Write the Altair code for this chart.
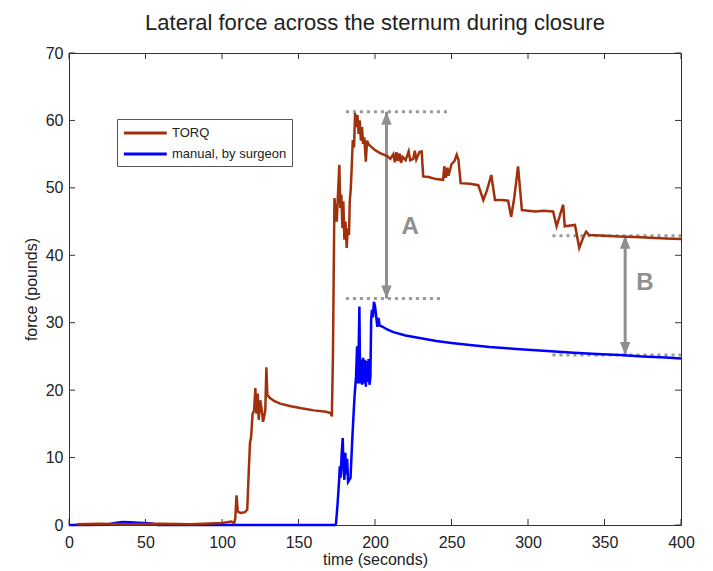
import altair as alt
import pandas as pd

# ---------------- data ----------------
series_names = ["TORQ", "manual, by surgeon"]
series_colors = ["#A0310C", "#0000FF"]

torq_t = [5, 20, 40, 60, 80, 100, 106, 108, 108.7, 109.5, 110.3, 112, 115, 116.5, 117.5, 118.3,
          119, 120, 121, 121.8, 122.5, 123.3, 124, 125, 126, 126.8, 127.5, 128.3, 129, 129.6,
          131, 134, 138, 145, 152, 160, 168, 171, 171.8, 172.5, 173, 173.5, 174, 175, 176,
          176.7, 177.3, 178, 178.7, 179.3, 180, 180.7, 181.5, 182.2, 183, 183.5, 184.2, 184.8,
          185.5, 186.3, 187, 187.8, 188.5, 189.3, 190, 190.8, 191.5, 192.2, 193, 194, 194.8,
          196, 198, 200, 203, 206, 208, 210, 212, 213, 214, 215, 216, 217, 218, 220, 222, 223,
          225, 226, 227, 229, 230.5, 231.5, 235, 240, 244.5, 245.3, 246.3, 247.3, 248, 250,
          252, 253.4, 254.5, 256, 262, 267.5, 270.8, 273, 276, 278.4, 283, 287, 289, 291,
          293.5, 296, 300, 305, 310, 316.4, 318.7, 323, 324, 330.7, 333.5, 336, 338, 340, 350,
          360, 370, 380, 390, 400]
torq_f = [0.1, 0.2, 0.1, 0.2, 0.1, 0.3, 0.5, 0.3, 1.0, 4.4, 2.0, 1.8, 1.9, 2.3, 8.0, 12.2,
          13.0, 16.5, 17.0, 20.3, 16.5, 19.5, 15.6, 18.5, 17.0, 15.3, 16.0, 17.0, 23.4, 19.3,
          18.9, 18.4, 18.0, 17.6, 17.3, 17.0, 16.8, 16.6, 16.1, 25.0, 37.0, 48.5, 47.0, 45.0,
          50.0, 53.4, 47.0, 49.0, 44.0, 48.0, 42.3, 45.0, 41.1, 44.0, 43.0, 48.0, 50.0, 53.2,
          57.1, 56.0, 61.1, 59.0, 60.8, 58.0, 60.0, 57.0, 59.0, 56.5, 57.5, 53.9, 57.0,
          56.4, 56.0, 55.6, 55.2, 54.9, 54.7, 54.3, 55.0, 53.8, 55.3, 54.0, 55.1, 53.7, 54.6,
          54.1, 55.4, 54.1, 54.3, 55.5, 54.2, 55.3, 55.4, 51.7, 51.6, 51.3, 51.2, 53.2, 51.5,
          53.0, 51.8, 53.5, 54.0, 54.9, 54.2, 50.7, 50.6, 50.4, 48.2, 49.5, 51.9, 48.2, 48.2,
          48.1, 45.7, 48.5, 53.2, 46.7, 46.6, 46.5, 46.6, 46.5, 44.3, 47.5, 44.3, 44.5, 41.1,
          42.6, 43.5, 43.0, 42.9, 42.8, 42.7, 42.6, 42.5, 42.4]

man_t = [0, 5, 10, 25, 30, 35, 40, 45, 50, 55, 58, 100, 174, 174.5, 175.5, 176.5, 177, 177.5,
         178.2, 178.9, 179.5, 180, 180.6, 181.2, 181.8, 182.4, 183.2, 184, 185, 185.8, 186.6,
         187.6, 188.3, 188.8, 189.4, 189.8, 190.3, 191, 191.6, 192.2, 192.8, 193.4, 194,
         194.6, 195.2, 195.8, 196.4, 197, 197.5, 198, 198.6, 199.3, 200, 200.8, 201.5, 202.3,
         203, 205, 208, 212, 220, 230, 240, 250, 262, 275, 290, 300, 315, 330, 345, 360, 375,
         390, 400]
man_f = [0, 0, 0, 0.05, 0.3, 0.45, 0.4, 0.35, 0.3, 0.2, 0, 0, 0, 0.2, 3.0, 6.5, 8.7, 7.0,
         10.5, 12.9, 8.0, 6.7, 10.7, 7.5, 9.8, 6.4, 6.7, 7.0, 12.0, 15.6, 19.0, 22.0, 26.5,
         21.0, 27.0, 32.4, 21.0, 24.5, 20.8, 24.8, 21.0, 24.5, 20.5, 24.3, 21.2, 24.6, 20.8,
         22.0, 30.5, 31.9, 30.8, 33.1, 32.5, 30.9, 29.4, 30.7, 29.6, 29.4, 29.0, 28.6, 28.1,
         27.7, 27.3, 27.0, 26.7, 26.4, 26.15, 26.0, 25.75, 25.55, 25.35, 25.2, 25.0, 24.85,
         24.7]

x_ticks = [0, 50, 100, 150, 200, 250, 300, 350, 400]
y_ticks = [0, 10, 20, 30, 40, 50, 60, 70]

ref_x1 = [181, 181, 316, 316]
ref_x2 = [247, 242.5, 400, 400]
ref_y = [61.3, 33.6, 42.9, 25.2]

arrow_x = [207.5, 363.5]
arrow_top = [61.3, 42.9]
arrow_bot = [33.6, 25.2]

label_text = ["A", "B"]
label_x = [223, 376.5]
label_y = [44.2, 35.9]

# ---------------- tables ----------------
torq_df = pd.DataFrame({"t": torq_t, "f": torq_f, "series": series_names[0]})
man_df = pd.DataFrame({"t": man_t, "f": man_f, "series": series_names[1]})
xt_df = pd.DataFrame({"t": x_ticks})
yt_df = pd.DataFrame({"f": y_ticks})
ref_df = pd.DataFrame({"t": ref_x1, "t2": ref_x2, "f": ref_y})
arr_df = pd.DataFrame({"t": arrow_x, "f": arrow_top, "f2": arrow_bot})
lab_df = pd.DataFrame({"t": label_x, "f": label_y, "txt": label_text})

W, H = 612, 472
FONT = "Liberation Sans"
GRAY = "#8f8f8f"

xs = alt.Scale(domain=[0, 400], nice=False, zero=False)
ys = alt.Scale(domain=[0, 70], nice=False, zero=False)
XT = "time (seconds)"
YT = "force (pounds)"

x_axis = alt.Axis(values=x_ticks, tickSize=0, domain=False, grid=False, labelPadding=9,
                  titlePadding=1, labelFlush=False, labelOverlap=False)
y_axis = alt.Axis(values=y_ticks, tickSize=0, domain=False, grid=False, labelPadding=6,
                  titlePadding=6, labelFlush=False, labelOverlap=False)

X = lambda f="t:Q": alt.X(f, scale=xs, axis=x_axis, title=XT)
Y = lambda f="f:Q": alt.Y(f, scale=ys, axis=y_axis, title=YT)

color = alt.Color(
    "series:N",
    scale=alt.Scale(domain=series_names, range=series_colors),
    legend=alt.Legend(
        title=None, orient="none", legendX=48, legendY=66,
        symbolType="M-1,0H5", symbolSize=205, symbolStrokeWidth=3,
        labelFont=FONT, labelFontSize=13, labelColor="#222", labelOffset=32,
        strokeColor="#555", fillColor="white", padding=5, rowPadding=5,
    ),
)

man_line = alt.Chart(man_df).mark_line(strokeWidth=2.5).encode(x=X(), y=Y(), color=color)
torq_line = alt.Chart(torq_df).mark_line(strokeWidth=2.5).encode(x=X(), y=Y(), color=color)

refs = alt.Chart(ref_df).mark_rule(color="#999", strokeWidth=3, strokeDash=[3, 4]).encode(
    x=X(), x2="t2:Q", y=Y())

shafts = alt.Chart(arr_df).mark_rule(color=GRAY, strokeWidth=3).encode(x=X(), y=Y(), y2="f2:Q")
head_up = alt.Chart(arr_df).mark_point(
    shape="M0,-1L0.8,1L-0.8,1Z", filled=True, size=169, color=GRAY, opacity=1, yOffset=6.5
).encode(x=X(), y=Y())
head_dn = alt.Chart(arr_df).mark_point(
    shape="M0,1L0.8,-1L-0.8,-1Z", filled=True, size=169, color=GRAY, opacity=1, yOffset=-6.5
).encode(x=X(), y=Y("f2:Q"))

labels = alt.Chart(lab_df).mark_text(
    font=FONT, fontSize=24, fontWeight="bold", color=GRAY, align="center", baseline="middle"
).encode(x=X(), y=Y(), text="txt:N")

tick_b = alt.Chart(xt_df).mark_rule(color="#333", strokeWidth=1).encode(
    x=X(), y=alt.value(H), y2=alt.value(H - 6))
tick_t = alt.Chart(xt_df).mark_rule(color="#333", strokeWidth=1).encode(
    x=X(), y=alt.value(0), y2=alt.value(6))
tick_l = alt.Chart(yt_df).mark_rule(color="#333", strokeWidth=1).encode(
    y=Y(), x=alt.value(0), x2=alt.value(6))
tick_r = alt.Chart(yt_df).mark_rule(color="#333", strokeWidth=1).encode(
    y=Y(), x=alt.value(W), x2=alt.value(W - 6))

chart = alt.layer(
    tick_b, tick_t, tick_l, tick_r, refs, shafts, head_up, head_dn, labels, man_line, torq_line
).properties(
    width=W, height=H,
    title=alt.TitleParams("Lateral force across the sternum during closure", font=FONT,
                          fontSize=22, fontWeight="normal", color="#222", anchor="middle",
                          offset=10),
    padding={"left": 61, "top": 45, "right": 14, "bottom": 46},
    autosize=alt.AutoSizeParams(type="none"),
).configure_view(
    stroke="#333", strokeWidth=1
).configure_axis(
    labelFont=FONT, labelFontSize=16, labelColor="#222",
    titleFont=FONT, titleFontSize=16, titleFontWeight="normal", titleColor="#222",
)

chart.save("out.html", embed_options={"renderer": "svg", "actions": False})
